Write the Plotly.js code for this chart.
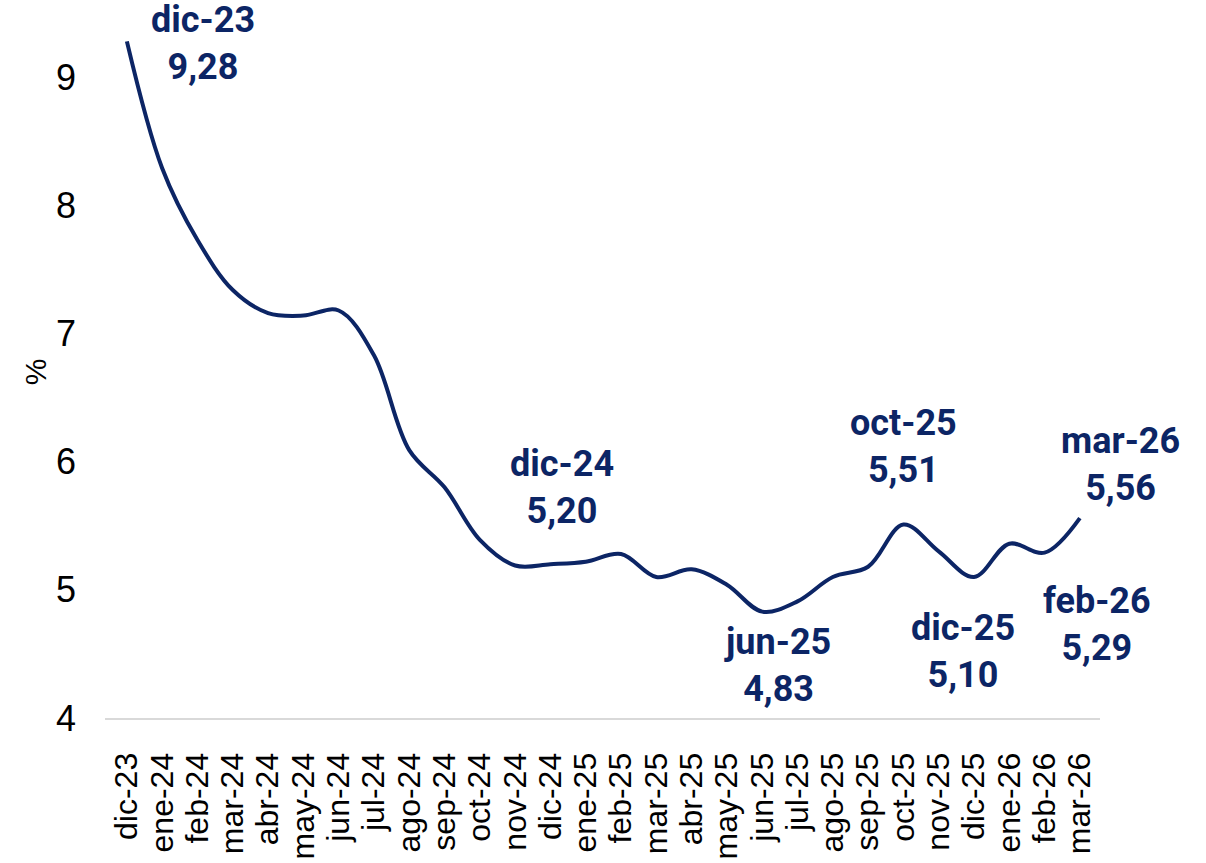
<!DOCTYPE html>
<html>
<head>
<meta charset="utf-8">
<script src="https://cdn.plot.ly/plotly-3.0.1.min.js"></script>
<style>html,body{margin:0;padding:0;background:#fff;}#chart{width:1206px;height:863px;}</style>
</head>
<body>
<div id="chart"></div>
<script>
const months = ["dic-23","ene-24","feb-24","mar-24","abr-24","may-24","jun-24","jul-24","ago-24","sep-24","oct-24","nov-24","dic-24","ene-25","feb-25","mar-25","abr-25","may-25","jun-25","jul-25","ago-25","sep-25","oct-25","nov-25","dic-25","ene-26","feb-26","mar-26"];
const values = [9.28,8.29,7.73,7.34,7.16,7.14,7.18,6.83,6.09,5.80,5.39,5.19,5.20,5.22,5.28,5.10,5.16,5.04,4.83,4.91,5.10,5.18,5.51,5.30,5.10,5.36,5.29,5.56];
const yTicks = [4,5,6,7,8,9];
const labelled = ["dic-23","dic-24","jun-25","oct-25","dic-25","feb-26","mar-26"];
const labelShift = {"dic-23":[76,-2],"dic-24":[12,77],"jun-25":[15,-54],"oct-25":[0,78],"dic-25":[-11,-74],"feb-26":[52,-72],"mar-26":[41,54]};

const navy = "#0c2565";
const fmt = v => v.toFixed(2).replace(".", ",");

const annotations = labelled.map(m => {
  const i = months.indexOf(m);
  return {
    x: m, y: values[i], xref: "x", yref: "y",
    text: m + "<br>" + fmt(values[i]),
    showarrow: false,
    xshift: labelShift[m][0], yshift: labelShift[m][1],
    font: {family: "Roboto", size: 36, color: navy, weight: 700},
    align: "center"
  };
});

const trace = {
  x: months, y: values, type: "scatter", mode: "lines",
  line: {color: navy, width: 4, shape: "spline", smoothing: 1},
  hoverinfo: "skip"
};

const layout = {
  width: 1206, height: 863,
  margin: {l: 105, r: 106, t: 26, b: 145},
  paper_bgcolor: "#fff", plot_bgcolor: "#fff",
  showlegend: false,
  xaxis: {
    type: "category", range: [-0.62, 27.57],
    tickmode: "array", tickvals: months, ticktext: months,
    tickangle: -90, tickfont: {family: "Liberation Sans", size: 32, color: "#000"},
    showgrid: false, zeroline: false,
    showline: true, linecolor: "#d9d9d9", linewidth: 2,
    ticks: "", ticklabelstandoff: 20
  },
  yaxis: {
    range: [4, 9.4], tickmode: "array", tickvals: yTicks,
    tickfont: {family: "Liberation Sans", size: 36, color: "#000"},
    showgrid: false, zeroline: false, showline: false,
    ticks: "", ticklabelstandoff: 28,
    title: {text: "%", font: {family: "Liberation Sans", size: 30, color: "#000"}, standoff: 0}
  },
  annotations: annotations
};

Plotly.newPlot("chart", [trace], layout, {displayModeBar: false, staticPlot: true});
</script>
</body>
</html>
